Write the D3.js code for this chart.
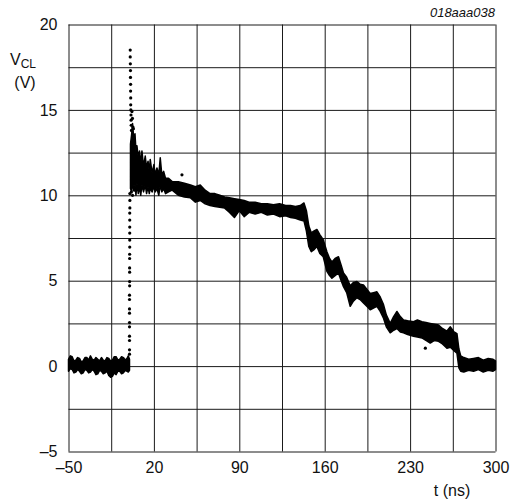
<!DOCTYPE html>
<html>
<head>
<meta charset="utf-8">
<script src="https://cdn.jsdelivr.net/npm/d3@7"></script>
<style>
  body { margin: 0; background: #fff; }
  text { font-family: "Liberation Sans", Arial, Helvetica, sans-serif; fill: #111; }
</style>
</head>
<body>
<svg id="chart"></svg>
<script>
// tick labels and grid positions
const xLabels = [-50, 20, 90, 160, 230, 300]
const yLabels = [-5, 0, 5, 10, 15, 20]
const xGrid = [-50, -15, 20, 55, 90, 125, 160, 195, 230, 265, 300]
const yGrid = [-5, -2.5, 0, 2.5, 5, 7.5, 10, 12.5, 15, 17.5, 20]

// trace before the pulse: time (ns), lower and upper edge of the noise band (V)
const preT  = [-50, -48.5, -47, -45.5, -44, -42.5, -41, -39.5, -38, -36.5, -35, -33.5, -32, -30.5, -29, -27.5, -26, -24.5, -23, -21.5,
               -20, -18.5, -17, -15.5, -14, -12.5, -11, -9.5, -8, -6.5, -5, -3.5, -2, -1, 0]
const preLo = [-0.3, -0.15, -0.2, -0.4, -0.35, -0.2, -0.3, -0.45, -0.4, -0.2, -0.25, -0.4, -0.35, -0.2, -0.3, -0.5, -0.45, -0.25, -0.3, -0.45,
               -0.4, -0.3, -0.55, -0.65, -0.6, -0.4, -0.5, -0.3, -0.3, -0.45, -0.4, -0.25, -0.3, -0.35, -0.25]
const preHi = [0.4, 0.6, 0.55, 0.3, 0.35, 0.5, 0.45, 0.25, 0.3, 0.5, 0.5, 0.35, 0.6, 0.4, 0.35, 0.5, 0.4, 0.3, 0.5, 0.35,
               0.3, 0.5, 0.45, 0.3, 0.35, 0.55, 0.55, 0.35, 0.4, 0.55, 0.5, 0.35, 0.45, 0.6, 0.4]

// trace after the pulse
const postT  = [0.8, 1.8, 2.5, 3.5, 4.5, 5.3, 6.1, 7.2, 8.2, 9.2, 10.2, 11.5, 12.9, 14, 15.2, 16.2, 17, 18.5, 20, 21.1,
                22.5, 24, 25.2, 26.5, 28, 29.5, 32, 35, 40, 45,
                50, 54, 58, 62, 66, 70, 74, 78, 82, 86, 90, 94, 98, 103, 108, 113, 118, 123, 128, 132,
                136, 140, 143, 145, 147, 149, 151, 153.6, 156, 158.8, 161.8, 164, 165.9, 168.5, 171.3, 173.5, 175.4, 178, 180.9, 183.5,
                186.4, 189, 191.8, 194.5, 197.3, 200, 202.8, 205.5, 208.2, 210.5, 213.7, 216.5, 219.2, 222, 224.6, 228, 232.8, 236, 239.7, 243,
                246.5, 250, 253.3, 256.5, 260.2, 263, 266, 268.4, 270, 271.5, 274, 278, 282, 286, 290, 294, 298, 300]
const postLo = [10.4, 10.2, 10.8, 10.3, 10.6, 10.0, 10.7, 10.1, 10.5, 10.0, 10.6, 10.2, 10.6, 10.1, 10.5, 10.1, 10.4, 10.2, 10.5, 10.2,
                10.4, 10.0, 10.6, 10.2, 10.4, 10.1, 10.2, 10.3, 10.0, 9.9,
                9.85, 9.6, 9.7, 9.5, 9.4, 9.35, 9.3, 9.25, 9.0, 8.7, 9.1, 8.75, 9.0, 8.9, 9.0, 8.85, 8.9, 8.75, 8.8, 8.7,
                8.65, 8.55, 8.5, 7.9, 7.0, 6.7, 6.8, 7.0, 6.6, 6.4, 5.55, 5.3, 5.15, 5.3, 5.45, 5.0, 4.65, 4.3, 3.5, 3.8,
                4.0, 3.9, 3.7, 3.5, 3.3, 3.4, 3.5, 3.2, 2.8, 2.3, 1.95, 2.1, 2.2, 2.0, 1.95, 1.85, 1.75, 1.7, 1.65, 1.5,
                1.35, 1.5, 1.45, 1.3, 1.05, 1.1, 0.9, 0.75, -0.1, -0.3, -0.35, -0.25, -0.3, -0.2, -0.35, -0.25, -0.3, -0.2]
const postHi = [13.0, 13.6, 14.2, 13.3, 13.6, 12.6, 12.9, 12.2, 12.6, 11.8, 12.6, 11.7, 12.3, 11.6, 12.0, 11.4, 12.1, 11.3, 11.8, 11.2,
                11.6, 11.2, 12.2, 11.2, 11.4, 11.0, 11.0, 10.8, 10.8, 10.7,
                10.6, 10.5, 10.6, 10.3, 10.1, 10.1, 10.0, 9.9, 9.85, 9.8, 9.75, 9.7, 9.6, 9.6, 9.5, 9.5, 9.45, 9.5, 9.4, 9.4,
                9.35, 9.4, 9.55, 9.1, 8.2, 7.8, 7.9, 8.0, 7.7, 7.4, 6.7, 6.3, 6.1, 6.3, 6.4, 5.9, 5.45, 5.2, 4.7, 4.9,
                4.95, 4.8, 4.75, 4.5, 4.25, 4.3, 4.35, 4.05, 3.6, 3.0, 2.5, 2.9, 3.2, 2.9, 2.7, 2.65, 2.6, 2.7, 2.6, 2.55,
                2.5, 2.45, 2.4, 2.2, 2.05, 2.3, 2.0, 1.9, 1.0, 0.6, 0.5, 0.4, 0.45, 0.5, 0.35, 0.45, 0.4, 0.3]

// single samples of the rising edge and a few strays
const dotT = [0, 0, 0, 0, 0, 0, 0, 0, 0, 0, 0.1, 0.1, 0.1, 0.1, 0.1, 0.1, 0.2, 0.2, 0.2, 0.2, 0.2, 0.2, 0.3, 0.3, 0.3,
              0.6, 0.6, 0.7, 0.8, 0.8, 0.9, 0.9, 1.0, 1.0, 1.1, 1.2, 1.3, 1.4, 1.6, 2.0, 2.4, 2.8, 3.2, 1.5, 2.5, 4.0, 43, 242.5]
const dotV = [0.7, 0.95, 1.5, 1.75, 2.3, 2.55, 3.1, 3.35, 3.9, 4.15, 4.7, 4.95, 5.5, 5.75, 6.3, 6.55, 6.97, 7.38, 7.79, 8.14, 8.55, 8.96, 9.26, 9.7, 10.1,
              18.5, 18.1, 17.7, 17.3, 16.9, 16.5, 16.1, 15.7, 15.3, 15.0, 14.7, 14.4, 14.1, 13.8, 14.9, 14.5, 14.0, 13.9, 10.2, 10.0, 10.3, 11.2, 1.05]

const width = 514, height = 504
const plot = { left: 68.5, right: 495.5, top: 24.5, bottom: 451.5 }

const svg = d3.select('#chart')
    .attr('width', width)
    .attr('height', height)

const x = d3.scaleLinear().domain([-50, 300]).range([plot.left, plot.right])
const y = d3.scaleLinear().domain([-5, 20]).range([plot.bottom, plot.top])

const dash = d => d < 0 ? '\u2013' + Math.abs(d) : String(d)

// grid
svg.append('g')
    .attr('transform', 'translate(0,' + plot.bottom + ')')
    .call(d3.axisBottom(x).tickValues(xGrid).tickSize(-(plot.bottom - plot.top)).tickFormat(''))
svg.append('g')
    .attr('transform', 'translate(' + plot.left + ',0)')
    .call(d3.axisLeft(y).tickValues(yGrid).tickSize(-(plot.right - plot.left)).tickFormat(''))
svg.selectAll('.domain').remove()
svg.selectAll('.tick line').attr('stroke', '#1a1a1a').attr('stroke-width', 1)

// tick labels
const lx = svg.append('g')
    .attr('transform', 'translate(0,' + plot.bottom + ')')
    .call(d3.axisBottom(x).tickValues(xLabels).tickSize(0).tickPadding(10).tickFormat(dash))
const ly = svg.append('g')
    .attr('transform', 'translate(' + plot.left + ',0)')
    .call(d3.axisLeft(y).tickValues(yLabels).tickSize(0).tickPadding(11).tickFormat(dash))
lx.select('.domain').remove()
ly.select('.domain').remove()
svg.selectAll('g text')
    .attr('font-family', '"Liberation Sans", Arial, sans-serif')
    .attr('font-size', 16)
    .attr('fill', '#111')

// trace
const area = d3.area()
    .x(d => x(d.t))
    .y0(d => y(d.lo))
    .y1(d => y(d.hi))

const pre = preT.map((t, i) => ({ t: t, lo: preLo[i], hi: preHi[i] }))
const post = postT.map((t, i) => ({ t: t, lo: postLo[i], hi: postHi[i] }))

svg.selectAll('.band')
    .data([pre, post])
    .enter()
    .append('path')
    .attr('class', 'band')
    .attr('d', area)
    .attr('fill', '#000')
    .attr('stroke', '#000')
    .attr('stroke-width', 1.5)
    .attr('stroke-linejoin', 'round')

svg.selectAll('.dot')
    .data(dotT.map((t, i) => ({ t: t, v: dotV[i] })))
    .enter()
    .append('circle')
    .attr('class', 'dot')
    .attr('cx', d => x(d.t))
    .attr('cy', d => y(d.v))
    .attr('r', 1.6)
    .attr('fill', '#000')

// axis titles
const yTitle = svg.append('text')
    .attr('x', 10)
    .attr('y', 65)
    .attr('font-size', 16)
yTitle.append('tspan').text('V')
yTitle.append('tspan').attr('font-size', 12).attr('dy', 3).text('CL')

svg.append('text')
    .attr('x', 25)
    .attr('y', 88)
    .attr('text-anchor', 'middle')
    .attr('font-size', 16)
    .text('(V)')

svg.append('text')
    .attr('x', 452)
    .attr('y', 496)
    .attr('text-anchor', 'middle')
    .attr('font-size', 16)
    .text('t (ns)')

svg.append('text')
    .attr('x', 495)
    .attr('y', 17)
    .attr('text-anchor', 'end')
    .attr('font-size', 13)
    .attr('font-style', 'italic')
    .text('018aaa038')
</script>
</body>
</html>
